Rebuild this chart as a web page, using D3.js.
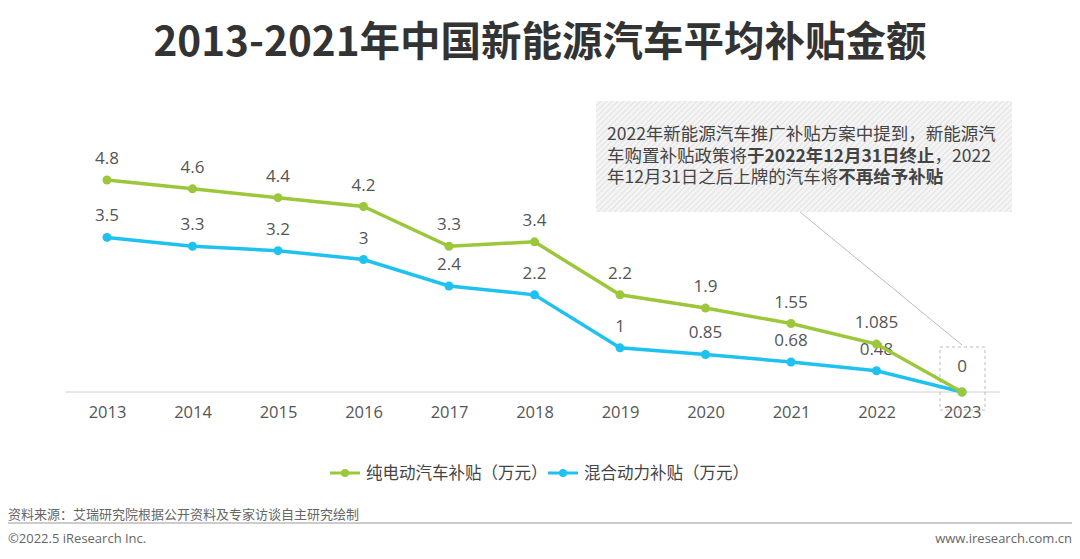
<!DOCTYPE html>
<html><head><meta charset="utf-8">
<script src="https://cdn.jsdelivr.net/npm/d3@7"></script>
<style>body{margin:0;background:#fff}svg{font-family:"Noto Sans CJK SC","Open Sans",sans-serif}</style>
</head><body><svg id="c" width="1080" height="559"></svg>
<script>
const years=["2013","2014","2015","2016","2017","2018","2019","2020","2021","2022","2023"];
const bevVals=[4.8,4.6,4.4,4.2,3.3,3.4,2.2,1.9,1.55,1.085,0];
const phevVals=[3.5,3.3,3.2,3,2.4,2.2,1,0.85,0.68,0.48,0];
const bevName="纯电动汽车补贴（万元）", phevName="混合动力补贴（万元）";
const green="#9dc73a", blue="#1fc2ee";
const svg=d3.select("#c");
const defs=svg.append("defs");
const pat=defs.append("pattern").attr("id","h").attr("width",4).attr("height",4).attr("patternUnits","userSpaceOnUse").attr("patternTransform","rotate(45)");
pat.append("rect").attr("width",4).attr("height",4).attr("fill","#f4f4f4");
pat.append("line").attr("x1",0).attr("y1",0).attr("x2",0).attr("y2",4).attr("stroke","#dcdcdc").attr("stroke-width",1.5);

svg.append("text").attr("x",540).attr("y",56).attr("text-anchor","middle").attr("font-size",40.5).attr("font-weight",700).attr("fill","#333").text("2013-2021年中国新能源汽车平均补贴金额");

const x=d3.scalePoint().domain(years).range([107,962]);
const y=d3.scaleLinear().domain([0,4.8]).range([392,180]);
svg.append("line").attr("x1",65).attr("x2",1000).attr("y1",392).attr("y2",392).attr("stroke","#d0d0d0");
const ax=svg.append("g").attr("transform","translate(0,392)").call(d3.axisBottom(x).tickSize(0).tickPadding(14));
ax.select(".domain").remove();
ax.selectAll("text").attr("font-size",16.5).attr("fill","#555").attr("font-family","'Open Sans',sans-serif");

svg.append("rect").attr("x",596).attr("y",101).attr("width",416).attr("height",111).attr("fill","url(#h)");
svg.append("line").attr("x1",800).attr("y1",212).attr("x2",962).attr("y2",345).attr("stroke","#bbb");
svg.append("rect").attr("x",940).attr("y",347).attr("width",45).attr("height",63).attr("fill","none").attr("stroke","#bbb").attr("stroke-dasharray","3,3");
const ann=[[["2022年新能源汽车推广补贴方案中提到，新能源汽",0]],[["车购置补贴政策将",0],["于2022年12月31日终止",1],["，2022",0]],[["年12月31日之后上牌的汽车将",0],["不再给予补贴",1]]];
ann.forEach((l,i)=>{let cx=607;
 l.forEach(s=>{const t=svg.append("text").attr("x",cx).attr("y",140+i*21.5).attr("font-size",17.5).attr("fill","#444").attr("font-weight",s[1]?700:400).text(s[0]);
  cx+=t.node().getComputedTextLength();});});

function series(vals,col,showLast){
 const line=d3.line().x((d,i)=>x(years[i])).y(d=>y(d));
 svg.append("path").attr("d",line(vals)).attr("fill","none").attr("stroke",col).attr("stroke-width",3.5);
 svg.selectAll(null).data(vals).enter().append("circle").attr("cx",(d,i)=>x(years[i])).attr("cy",d=>y(d)).attr("r",4.5).attr("fill",col);
 svg.selectAll(null).data(vals.map((v,i)=>[v,i]).filter(p=>showLast||p[1]<10)).enter().append("text")
  .attr("x",p=>x(years[p[1]])).attr("y",p=>p[1]===10?372:y(p[0])-16).attr("text-anchor","middle").attr("font-size",17).attr("fill","#555")
  .attr("font-family","'Open Sans',sans-serif").text(p=>p[0]);
}
series(phevVals,blue,false);
series(bevVals,green,true);

function leg(x0,col,name){svg.append("line").attr("x1",x0).attr("x2",x0+30).attr("y1",473).attr("y2",473).attr("stroke",col).attr("stroke-width",3);
 svg.append("circle").attr("cx",x0+15).attr("cy",473).attr("r",4).attr("fill",col);
 svg.append("text").attr("x",x0+36).attr("y",479).attr("font-size",16.5).attr("fill","#444").text(name);}
leg(330,green,bevName);leg(548,blue,phevName);

svg.append("text").attr("x",8).attr("y",519).attr("font-size",13).attr("fill","#666").text("资料来源：艾瑞研究院根据公开资料及专家访谈自主研究绘制");
svg.append("line").attr("x1",8).attr("x2",1072).attr("y1",523).attr("y2",523).attr("stroke","#999");
svg.append("text").attr("x",8).attr("y",543).attr("font-size",13).attr("fill","#666").attr("font-family","'Open Sans',sans-serif").text("©2022.5 iResearch Inc.");
svg.append("text").attr("x",1072).attr("y",543).attr("text-anchor","end").attr("font-size",13).attr("fill","#666").attr("font-family","'Open Sans',sans-serif").text("www.iresearch.com.cn");
</script></body></html>
